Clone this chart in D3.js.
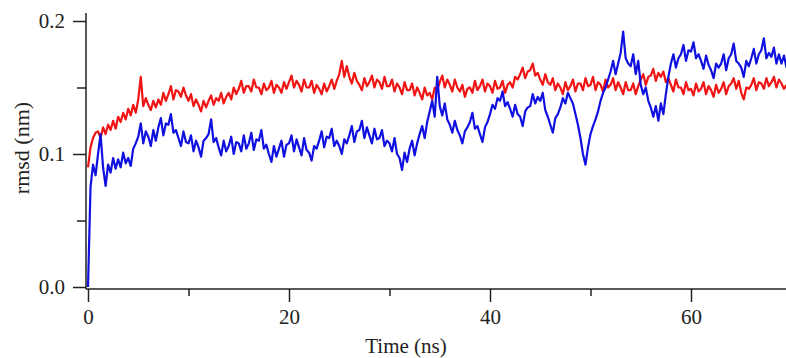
<!DOCTYPE html>
<html>
<head>
<meta charset="utf-8">
<script src="https://cdn.jsdelivr.net/npm/d3@7"></script>
<style>
  body { margin: 0; background: #fff; }
  svg { display: block; }
</style>
</head>
<body>
<div id="chart"></div>
<script>
// Sampling interval of both traces (ns)
const timeStep = 0.25;

// RMSD (nm), one value every 0.25 ns from t = 0
const rmsdRed = [
  0.090, 0.105, 0.112, 0.116, 0.117, 0.112, 0.120, 0.115, 0.122, 0.118, 0.125, 0.119,
  0.128, 0.124, 0.131, 0.126, 0.134, 0.129, 0.137, 0.131, 0.141, 0.158, 0.136, 0.142,
  0.137, 0.133, 0.140, 0.135, 0.141, 0.137, 0.146, 0.140, 0.145, 0.151, 0.141, 0.148,
  0.147, 0.143, 0.150, 0.144, 0.140, 0.145, 0.136, 0.141, 0.137, 0.132, 0.140, 0.135,
  0.140, 0.144, 0.137, 0.142, 0.140, 0.146, 0.138, 0.143, 0.146, 0.141, 0.150, 0.145,
  0.149, 0.155, 0.146, 0.151, 0.151, 0.147, 0.156, 0.150, 0.150, 0.145, 0.153, 0.148,
  0.150, 0.155, 0.146, 0.152, 0.150, 0.146, 0.154, 0.149, 0.154, 0.159, 0.150, 0.155,
  0.152, 0.147, 0.156, 0.150, 0.150, 0.155, 0.146, 0.152, 0.149, 0.145, 0.153, 0.147,
  0.151, 0.156, 0.149, 0.155, 0.160, 0.170, 0.158, 0.166, 0.158, 0.153, 0.161, 0.155,
  0.152, 0.148, 0.157, 0.151, 0.154, 0.159, 0.150, 0.156, 0.154, 0.149, 0.158, 0.151,
  0.151, 0.156, 0.147, 0.153, 0.150, 0.145, 0.154, 0.148, 0.148, 0.153, 0.144, 0.150,
  0.146, 0.141, 0.150, 0.144, 0.146, 0.141, 0.150, 0.148, 0.154, 0.159, 0.150, 0.156,
  0.152, 0.147, 0.156, 0.150, 0.147, 0.152, 0.143, 0.149, 0.150, 0.146, 0.155, 0.148,
  0.151, 0.156, 0.147, 0.153, 0.151, 0.146, 0.155, 0.149, 0.150, 0.155, 0.146, 0.152,
  0.154, 0.150, 0.158, 0.156, 0.160, 0.165, 0.157, 0.162, 0.163, 0.168, 0.159, 0.161,
  0.156, 0.152, 0.160, 0.154, 0.152, 0.157, 0.148, 0.153, 0.150, 0.145, 0.154, 0.148,
  0.151, 0.156, 0.147, 0.153, 0.153, 0.148, 0.157, 0.151, 0.152, 0.158, 0.148, 0.154,
  0.152, 0.147, 0.156, 0.150, 0.152, 0.157, 0.148, 0.154, 0.150, 0.145, 0.154, 0.148,
  0.148, 0.153, 0.145, 0.151, 0.156, 0.160, 0.152, 0.158, 0.159, 0.164, 0.155, 0.161,
  0.158, 0.162, 0.154, 0.157, 0.152, 0.147, 0.156, 0.150, 0.150, 0.145, 0.154, 0.148,
  0.149, 0.144, 0.153, 0.147, 0.149, 0.154, 0.145, 0.151, 0.148, 0.143, 0.152, 0.146,
  0.149, 0.154, 0.145, 0.151, 0.153, 0.157, 0.149, 0.155, 0.146, 0.141, 0.150, 0.149,
  0.152, 0.157, 0.148, 0.154, 0.153, 0.149, 0.157, 0.151, 0.154, 0.158, 0.150, 0.156,
  0.153, 0.149, 0.152
];

const rmsdBlue = [
  0.000, 0.075, 0.092, 0.084, 0.100, 0.115, 0.090, 0.076, 0.092, 0.086, 0.097, 0.089,
  0.096, 0.090, 0.101, 0.093, 0.097, 0.091, 0.104, 0.108, 0.113, 0.123, 0.108, 0.117,
  0.113, 0.106, 0.118, 0.110, 0.120, 0.127, 0.114, 0.123, 0.122, 0.130, 0.116, 0.118,
  0.112, 0.106, 0.117, 0.109, 0.108, 0.114, 0.102, 0.110, 0.105, 0.098, 0.110, 0.112,
  0.115, 0.126, 0.109, 0.112, 0.105, 0.099, 0.110, 0.102, 0.106, 0.113, 0.100, 0.109,
  0.108, 0.102, 0.114, 0.104, 0.108, 0.116, 0.103, 0.111, 0.110, 0.118, 0.104, 0.107,
  0.100, 0.094, 0.106, 0.098, 0.104, 0.110, 0.098, 0.107, 0.108, 0.114, 0.102, 0.111,
  0.105, 0.099, 0.112, 0.103, 0.101, 0.095, 0.106, 0.104, 0.110, 0.117, 0.105, 0.113,
  0.112, 0.119, 0.106, 0.110, 0.106, 0.100, 0.111, 0.108, 0.114, 0.121, 0.109, 0.117,
  0.118, 0.125, 0.112, 0.120, 0.114, 0.108, 0.119, 0.111, 0.112, 0.118, 0.106, 0.110,
  0.108, 0.102, 0.112, 0.100, 0.097, 0.088, 0.101, 0.094, 0.104, 0.110, 0.099, 0.108,
  0.115, 0.121, 0.112, 0.124, 0.132, 0.140, 0.128, 0.158, 0.136, 0.129, 0.138, 0.126,
  0.122, 0.116, 0.125, 0.118, 0.114, 0.108, 0.117, 0.120, 0.124, 0.131, 0.119, 0.121,
  0.115, 0.109, 0.120, 0.124, 0.130, 0.137, 0.134, 0.142, 0.140, 0.147, 0.136, 0.139,
  0.134, 0.128, 0.137, 0.130, 0.128, 0.121, 0.132, 0.135, 0.136, 0.145, 0.138, 0.143,
  0.140, 0.146, 0.133, 0.128, 0.122, 0.116, 0.127, 0.130, 0.135, 0.142, 0.138, 0.146,
  0.142, 0.138, 0.130, 0.122, 0.112, 0.100, 0.092, 0.105, 0.115, 0.121, 0.126, 0.132,
  0.140, 0.146, 0.150, 0.156, 0.162, 0.170, 0.160, 0.168, 0.176, 0.192, 0.172, 0.168,
  0.166, 0.175, 0.160, 0.170, 0.152, 0.145, 0.150, 0.140, 0.135, 0.128, 0.136, 0.125,
  0.138, 0.130, 0.145, 0.158, 0.168, 0.175, 0.165, 0.172, 0.175, 0.182, 0.170, 0.178,
  0.177, 0.184, 0.172, 0.175, 0.170, 0.164, 0.174, 0.167, 0.163, 0.157, 0.168, 0.165,
  0.168, 0.175, 0.163, 0.172, 0.175, 0.183, 0.170, 0.168, 0.165, 0.158, 0.170, 0.166,
  0.172, 0.179, 0.168, 0.175, 0.178, 0.187, 0.172, 0.176, 0.173, 0.180, 0.168, 0.175,
  0.168, 0.174, 0.165
];

const xMajorTicks = [0, 20, 40, 60];
const xMinorTicks = [10, 30, 50, 70];
const yMajorTicks = [0.0, 0.1, 0.2];
const yMinorTicks = [0.05, 0.15];

const width = 786;
const height = 358;

const svg = d3.select("#chart").append("svg")
  .attr("width", width)
  .attr("height", height)
  .style("font-family", "'Liberation Serif', 'Times New Roman', serif");

// scales
const x = d3.scaleLinear().domain([0, 70]).range([88, 791.5]);
const y = d3.scaleLinear().domain([0, 0.2]).range([287, 21]);

const line = d3.line()
  .x((d, i) => x(i * timeStep))
  .y(d => y(d));

// traces: red first, blue on top
svg.append("path")
  .datum(rmsdRed)
  .attr("fill", "none")
  .attr("stroke", "#f01414")
  .attr("stroke-width", 2.2)
  .attr("stroke-linejoin", "round")
  .attr("d", line);

svg.append("path")
  .datum(rmsdBlue)
  .attr("fill", "none")
  .attr("stroke", "#1010e0")
  .attr("stroke-width", 2.2)
  .attr("stroke-linejoin", "round")
  .attr("d", line);

// x axis
const xAxisY = 289;
const gx = svg.append("g").attr("transform", `translate(0,${xAxisY})`);
gx.append("g")
  .call(d3.axisBottom(x).tickValues(xMajorTicks).tickSize(13).tickPadding(7).tickFormat(d3.format("d")))
  .call(g => g.select(".domain").remove());
gx.append("g")
  .call(d3.axisBottom(x).tickValues(xMinorTicks).tickSize(7).tickFormat(""))
  .call(g => g.select(".domain").remove());
gx.append("line")
  .attr("x1", 86).attr("x2", width)
  .attr("stroke", "#222").attr("stroke-width", 1.5);

// y axis
const yAxisX = 86;
const gy = svg.append("g").attr("transform", `translate(${yAxisX},0)`);
gy.append("g")
  .call(d3.axisLeft(y).tickValues(yMajorTicks).tickSize(13).tickPadding(8).tickFormat(d3.format(".1f")))
  .call(g => g.select(".domain").remove());
gy.append("g")
  .call(d3.axisLeft(y).tickValues(yMinorTicks).tickSize(9).tickFormat(""))
  .call(g => g.select(".domain").remove());
gy.append("line")
  .attr("y1", 13).attr("y2", xAxisY)
  .attr("stroke", "#222").attr("stroke-width", 1.5);

svg.selectAll(".tick line").attr("stroke", "#222").attr("stroke-width", 1.5);
svg.selectAll(".tick text")
  .attr("fill", "#222")
  .style("font-family", "'Liberation Serif', 'Times New Roman', serif")
  .style("font-size", "21px");

// axis titles
svg.append("text")
  .attr("x", 406)
  .attr("y", 353)
  .attr("text-anchor", "middle")
  .attr("fill", "#222")
  .style("font-size", "21px")
  .text("Time (ns)");

svg.append("text")
  .attr("transform", "translate(29,148) rotate(-90)")
  .attr("text-anchor", "middle")
  .attr("fill", "#222")
  .style("font-size", "22px")
  .text("rmsd (nm)");
</script>
</body>
</html>
